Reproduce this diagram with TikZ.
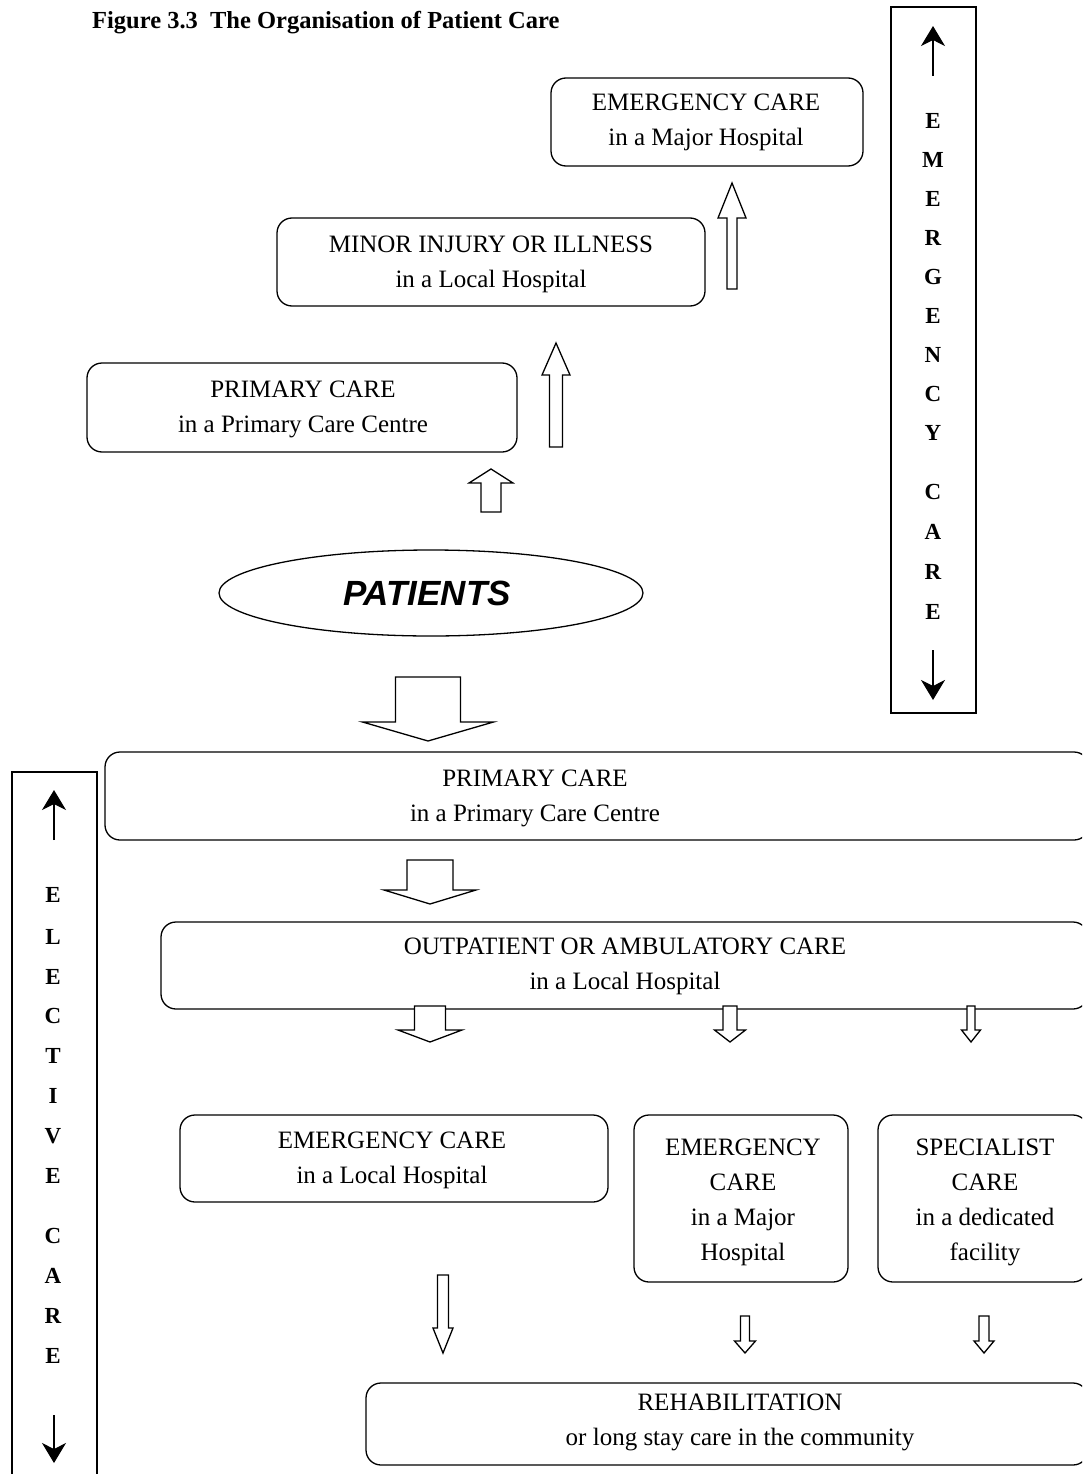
\documentclass[tikz,border=0pt]{standalone}
\usepackage{fontspec}
\setmainfont{Liberation Serif}
\newfontfamily\patfont{Liberation Sans}
\usetikzlibrary{arrows.meta,shapes.geometric}
\newcommand{\blkarrow}[6]{% x, shaft end y, shaft half width, head half width, head base y, tip y
  \draw[blk] ({#1-#3},#2) -- ({#1+#3},#2) -- ({#1+#3},#5) -- ({#1+#4},#5) -- (#1,#6) -- ({#1-#4},#5) -- ({#1-#3},#5) -- cycle;}
\begin{document}
\begin{tikzpicture}[x=1pt,y=-1pt,
  box/.style={draw,line width=1.3pt,rounded corners=15pt,inner sep=0pt},
  txt/.style={align=center,font=\fontsize{25}{35}\selectfont,inner sep=0pt},
  blk/.style={draw,line width=1.3pt,fill=white,line join=miter},
  vbar/.style={draw,line width=1.3pt,inner sep=0pt},
  vlet/.style={font=\fontsize{23}{23}\selectfont\bfseries,inner sep=0pt},
  varr/.style={line width=1.3pt,-{Stealth[length=20pt,width=24pt,inset=6pt]}}]
\useasboundingbox (0,0) rectangle (1082,1474);
\clip (0,0) rectangle (1082,1474);
\fill[white] (0,0) rectangle (1082,1474);

% title
\node[anchor=base west,inner sep=0pt,font=\fontsize{24.5}{28}\selectfont\bfseries] (title) at (92,29) {Figure 3.3\ \ The Organisation of Patient Care};

% ---- emergency side bar ----
\node[vbar,minimum width=85pt,minimum height=706pt] (emgbar) at (933.5,360) {};
\coordinate (eu1) at (933,76); \coordinate (eu2) at (933,26);
\coordinate (ed1) at (933,650); \coordinate (ed2) at (933,700);
\draw[varr] (eu1) -- (eu2);
\draw[varr] (ed1) -- (ed2);
\foreach \l/\y in {E/121,M/160,E/199,R/238,G/277,E/316,N/355,C/394,Y/433,C/492,A/532,R/572,E/612}
  \node[vlet] at (933,\y) {\l};

% ---- elective side bar ----
\node[vbar,minimum width=85pt,minimum height=730pt] (elebar) at (54.5,1137) {};
\coordinate (lu1) at (54,840); \coordinate (lu2) at (54,790);
\coordinate (ld1) at (54,1415); \coordinate (ld2) at (54,1463);
\draw[varr] (lu1) -- (lu2);
\draw[varr] (ld1) -- (ld2);
\foreach \l/\y in {E/895,L/937,E/977,C/1016,T/1056,I/1096,V/1136,E/1176,C/1236,A/1276,R/1316,E/1356}
  \node[vlet] at (53,\y) {\l};

% ---- upper boxes ----
\node[box,minimum width=312pt,minimum height=88pt] (ecmajB) at (707,122) {};
\node[txt] (ecmaj) at (706,122) {EMERGENCY CARE\\in a Major Hospital};
\node[box,minimum width=428pt,minimum height=88pt] (minorB) at (491,262) {};
\node[txt] (minor) at (491,264) {MINOR INJURY OR ILLNESS\\in a Local Hospital};
\node[box,minimum width=430pt,minimum height=89pt] (pc1B) at (302,407.5) {};
\node[txt] (pc1) at (303,409) {PRIMARY CARE\\in a Primary Care Centre};

\node[draw,ellipse,line width=1.3pt,minimum width=424pt,minimum height=86pt,inner sep=0pt] (patB) at (431,593) {};
\node[inner sep=0pt,font={\fontsize{35}{40}\selectfont\patfont\bfseries\itshape}] (pat) at (427,593) {PATIENTS};

% upward block arrows
\blkarrow{491}{512}{10}{22}{483}{469}
\blkarrow{556}{447}{6.5}{14}{375}{343}
\blkarrow{732}{289}{5}{14}{218}{183}

% big down arrow
\blkarrow{428}{677}{32.5}{65.5}{722}{741}

% ---- lower boxes ----
\node[box,minimum width=984pt,minimum height=88pt] (pc2B) at (597,796) {};
\node[txt] (pc2) at (535,798) {PRIMARY CARE\\in a Primary Care Centre};
\blkarrow{430}{860}{23}{46}{890}{904}

\node[box,minimum width=927pt,minimum height=87pt] (opB) at (624.5,965.5) {};
\node[txt] (op) at (625,966) {OUTPATIENT OR AMBULATORY CARE\\in a Local Hospital};
\blkarrow{430}{1006}{15.5}{32}{1030}{1042}
\blkarrow{730}{1006}{7}{15.5}{1030}{1042}
\blkarrow{971}{1006}{4}{9.5}{1030}{1042}

\node[box,minimum width=428pt,minimum height=87pt] (eclB) at (394,1158.5) {};
\node[txt] (ecl) at (392,1160) {EMERGENCY CARE\\in a Local Hospital};
\node[box,minimum width=214pt,minimum height=167pt] (ecm2B) at (741,1198.5) {};
\node[txt] (ecm2) at (743,1202) {EMERGENCY\\CARE\\in a Major\\Hospital};
\node[box,minimum width=210pt,minimum height=167pt] (specB) at (983,1198.5) {};
\node[txt] (spec) at (985,1202) {SPECIALIST\\CARE\\in a dedicated\\facility};

\blkarrow{443}{1275}{5.5}{10}{1328}{1353}
\blkarrow{745}{1316}{4.5}{10.5}{1341}{1353}
\blkarrow{984}{1316}{5}{10}{1341}{1353}

\node[box,minimum width=722pt,minimum height=82pt] (rehB) at (727,1424) {};
\node[txt] (reh) at (740,1422) {REHABILITATION\\or long stay care in the community};
\end{tikzpicture}
\end{document}
